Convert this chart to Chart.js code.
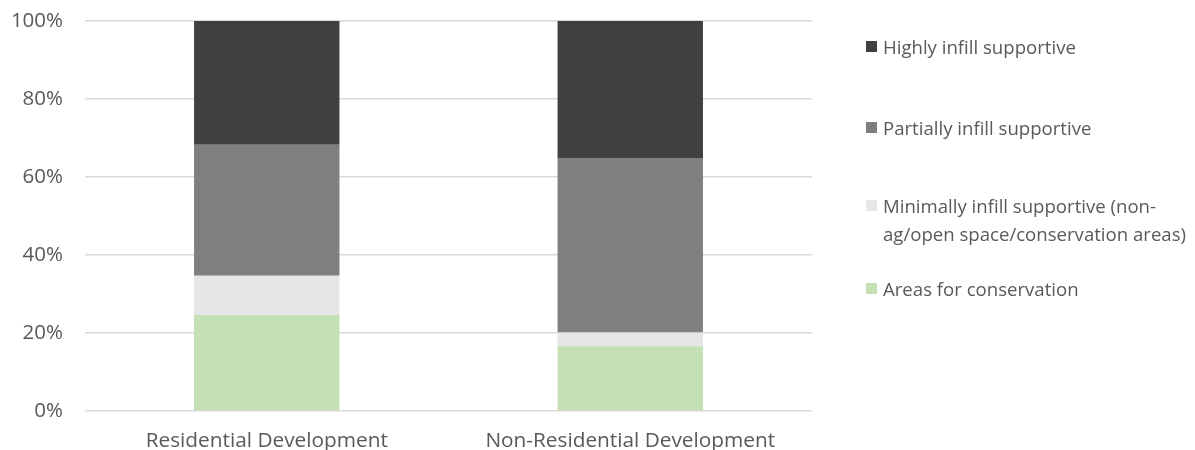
<!DOCTYPE html>
<html>
<head>
<meta charset="utf-8">
<script src="https://cdn.jsdelivr.net/npm/chart.js@4.4.0/dist/chart.umd.min.js"></script>
<style>
  html, body { margin: 0; padding: 0; background: #fff; }
  #wrap { position: relative; width: 1195px; height: 450px; }
  canvas { position: absolute; left: 0; top: 0; }
  #legend { position: absolute; left: 866px; top: 0; font-family: "Open Sans", sans-serif; font-size: 18.6px; color: #595959; }
  .item { position: absolute; left: 0; white-space: nowrap; line-height: 28px; }
  .sw { position: absolute; left: 0; width: 11px; height: 11px; }
  .tx { position: absolute; left: 17px; }
</style>
</head>
<body>
<div id="wrap">
  <canvas id="c" width="1195" height="450"></canvas>
  <div id="legend"></div>
</div>
<script>
const categories = ["Residential Development", "Non-Residential Development"];
const seriesNames = [
  "Areas for conservation",
  "Minimally infill supportive (non-ag/open space/conservation areas)",
  "Partially infill supportive",
  "Highly infill supportive"
];
const areasForConservation = [24.6, 16.6];
const minimallySupportive = [10.1, 3.5];
const partiallySupportive = [33.6, 44.8];
const highlySupportive = [31.7, 35.1];
const yTicks = [0, 20, 40, 60, 80, 100];
const colors = ["#c5e0b4", "#e6e6e6", "#7f7f7f", "#404040"];

const values = [areasForConservation, minimallySupportive, partiallySupportive, highlySupportive];

const datasets = seriesNames.map((name, i) => ({
  label: name,
  data: values[i],
  backgroundColor: colors[i],
  borderWidth: 0,
  categoryPercentage: 1.0,
  barPercentage: 0.4
}));

Chart.defaults.font.family = '"Open Sans", sans-serif';
Chart.defaults.color = '#595959';

new Chart(document.getElementById('c'), {
  type: 'bar',
  data: { labels: categories, datasets },
  options: {
    responsive: false,
    animation: false,
    layout: { padding: { top: 21, right: 383, left: 0, bottom: 0 } },
    plugins: { legend: { display: false }, tooltip: { enabled: false } },
    scales: {
      x: {
        stacked: true,
        grid: { display: false },
        border: { display: false },
        ticks: { font: { size: 20.8 }, color: '#595959', padding: 10 },
        afterFit: (s) => { s.height = 39; s.paddingLeft = 0; s.paddingRight = 0; }
      },
      y: {
        stacked: true,
        min: 0, max: 100,
        afterBuildTicks: (s) => { s.ticks = yTicks.map(v => ({ value: v })); },
        ticks: { font: { size: 20.5 }, color: '#595959', padding: 22, callback: v => v + '%' },
        grid: { color: '#d9d9d9', lineWidth: 1.5, drawTicks: false },
        border: { display: false },
        afterFit: (s) => { s.width = 85; s.paddingTop = 0; s.paddingBottom = 0; }
      }
    }
  }
});

const legendEl = document.getElementById('legend');
const legendItems = [
  { idx: 3, lines: ["Highly infill supportive"], top: 33 },
  { idx: 2, lines: ["Partially infill supportive"], top: 114 },
  { idx: 1, lines: ["Minimally infill supportive (non-", "ag/open space/conservation areas)"], top: 192 },
  { idx: 0, lines: ["Areas for conservation"], top: 275 }
];
legendItems.forEach(it => {
  const d = document.createElement('div');
  d.className = 'item';
  d.style.top = it.top + 'px';
  const sw = document.createElement('div');
  sw.className = 'sw';
  sw.style.background = colors[it.idx];
  sw.style.top = '8px';
  const tx = document.createElement('div');
  tx.className = 'tx';
  tx.innerHTML = it.lines.join('<br>');
  d.appendChild(sw);
  d.appendChild(tx);
  legendEl.appendChild(d);
});
</script>
</body>
</html>
